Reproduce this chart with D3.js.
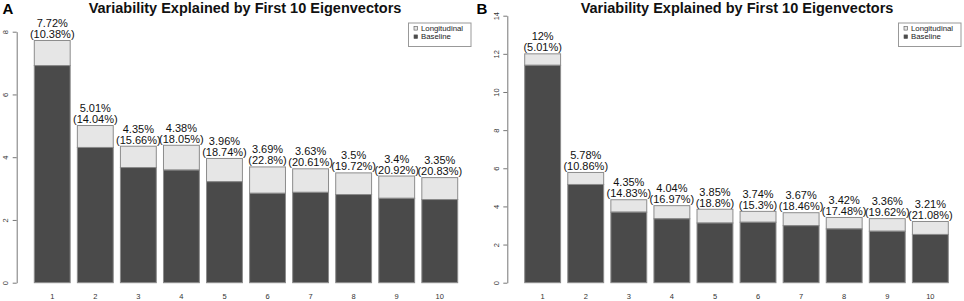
<!DOCTYPE html>
<html>
<head>
<meta charset="utf-8">
<script src="https://cdn.jsdelivr.net/npm/d3@7"></script>
<style>
  body { margin: 0; background: #fff; }
  text { font-family: "Liberation Sans", Arial, sans-serif; }
</style>
</head>
<body>
<div id="chart"></div>
<script>
// Eigenvector index (x categories)
const eigenvectors = ["1", "2", "3", "4", "5", "6", "7", "8", "9", "10"];

// Panel A: total height (top label) and longitudinal share (label in brackets)
const totalA = [7.72, 5.01, 4.35, 4.38, 3.96, 3.69, 3.63, 3.5, 3.4, 3.35];
const shareA = ["10.38", "14.04", "15.66", "18.05", "18.74", "22.8", "20.61", "19.72", "20.92", "20.83"];
const baselineA = [6.92, 4.31, 3.67, 3.59, 3.22, 2.85, 2.88, 2.81, 2.69, 2.65];
const ticksA = [0, 2, 4, 6, 8];

// Panel B
const totalB = [12, 5.78, 4.35, 4.04, 3.85, 3.74, 3.67, 3.42, 3.36, 3.21];
const shareB = ["5.01", "10.86", "14.83", "16.97", "18.8", "15.3", "18.46", "17.48", "19.62", "21.08"];
const baselineB = [11.4, 5.15, 3.7, 3.35, 3.13, 3.17, 2.99, 2.82, 2.7, 2.53];
const ticksB = [0, 2, 4, 6, 8, 10, 12, 14];

const legendItems = ["Longitudinal", "Baseline"];

const width = 964;
const height = 301;
const darkFill = "#4a4a4a";
const lightFill = "#e6e6e6";
const borderColor = "#8c8c8c";

const svg = d3
  .select("#chart")
  .append("svg")
  .attr("width", width)
  .attr("height", height);

// Draw one barplot panel
function drawPanel(opts) {
  const g = svg.append("g");

  const xScale = d3
    .scaleBand()
    .domain(eigenvectors)
    .range(opts.xRange)
    .paddingInner(1 / 6)
    .paddingOuter(0);

  const yScale = d3
    .scaleLinear()
    .domain([0, d3.max(opts.ticks)])
    .range([282.7, opts.yTop]);

  const rows = eigenvectors.map((k, i) => ({
    key: k,
    total: opts.total[i],
    base: opts.baseline[i],
    share: opts.share[i],
  }));

  // Light (longitudinal) part = whole bar, dark baseline drawn on top
  g.selectAll("rect.total")
    .data(rows)
    .enter()
    .append("rect")
    .attr("x", (d) => xScale(d.key))
    .attr("y", (d) => yScale(d.total))
    .attr("width", xScale.bandwidth())
    .attr("height", (d) => yScale(d.base) - yScale(d.total))
    .attr("fill", lightFill)
    .attr("stroke", borderColor)
    .attr("stroke-width", 1);

  g.selectAll("rect.base")
    .data(rows)
    .enter()
    .append("rect")
    .attr("x", (d) => xScale(d.key))
    .attr("y", (d) => yScale(d.base))
    .attr("width", xScale.bandwidth())
    .attr("height", (d) => yScale(0) - yScale(d.base))
    .attr("fill", darkFill)
    .attr("stroke", borderColor)
    .attr("stroke-width", 1);

  // Two-line labels above bars
  const labels = g
    .selectAll("text.lab")
    .data(rows)
    .enter()
    .append("text")
    .attr("text-anchor", "middle")
    .attr("font-size", "11px")
    .attr("fill", "#111");
  labels
    .append("tspan")
    .attr("x", (d) => xScale(d.key) + xScale.bandwidth() / 2)
    .attr("y", (d) => yScale(d.total) - 13.5)
    .text((d) => d.total + "%");
  labels
    .append("tspan")
    .attr("x", (d) => xScale(d.key) + xScale.bandwidth() / 2)
    .attr("y", (d) => yScale(d.total) - 2.5)
    .text((d) => "(" + d.share + "%)");

  // x category names (no axis line, like R barplot)
  g.selectAll("text.xlab")
    .data(rows)
    .enter()
    .append("text")
    .attr("x", (d) => xScale(d.key) + xScale.bandwidth() / 2)
    .attr("y", 298.5)
    .attr("text-anchor", "middle")
    .attr("font-size", "7.5px")
    .attr("fill", "#333")
    .text((d) => d.key);

  // y axis
  const axis = g
    .append("g")
    .attr("transform", `translate(${opts.axisX},0)`)
    .call(d3.axisLeft(yScale).tickValues(opts.ticks).tickSize(4).tickSizeOuter(0));
  axis.select(".domain").attr("stroke", "#777");
  axis.selectAll(".tick line").attr("stroke", "#777");
  axis
    .selectAll(".tick text")
    .attr("x", null)
    .attr("dy", null)
    .attr("transform", "translate(-8.5,0) rotate(-90)")
    .attr("text-anchor", "middle")
    .attr("font-size", "7.5px")
    .attr("font-family", "Liberation Sans, Arial, sans-serif")
    .attr("fill", "#333");

  // Title and panel letter
  g.append("text")
    .attr("x", opts.titleX)
    .attr("y", 12.5)
    .attr("text-anchor", "middle")
    .attr("font-size", "14.5px")
    .attr("font-weight", "bold")
    .attr("fill", "#111")
    .text("Variability Explained by First 10 Eigenvectors");

  g.append("text")
    .attr("x", opts.letterX)
    .attr("y", 13.5)
    .attr("font-size", "15px")
    .attr("font-weight", "bold")
    .attr("fill", "#000")
    .text(opts.letter);

  // Legend
  const lg = g.append("g").attr("transform", `translate(${opts.legendX},23)`);
  lg.append("rect")
    .attr("x", 0)
    .attr("y", 0)
    .attr("width", 62.5)
    .attr("height", 23.5)
    .attr("fill", "#fff")
    .attr("stroke", "#999")
    .attr("stroke-width", 1);
  legendItems.forEach((name, i) => {
    lg.append("rect")
      .attr("x", 5.5)
      .attr("y", 3.5 + i * 8.4)
      .attr("width", 3.6)
      .attr("height", 3.6)
      .attr("fill", i === 0 ? lightFill : darkFill)
      .attr("stroke", "#555")
      .attr("stroke-width", 0.6);
    lg.append("text")
      .attr("x", 12.5)
      .attr("y", 8 + i * 8.4)
      .attr("font-size", "7.8px")
      .attr("fill", "#222")
      .text(name);
  });
}

drawPanel({
  letter: "A",
  letterX: 2.5,
  titleX: 245,
  xRange: [34.3, 457.7],
  yTop: 31.7,
  axisX: 16.7,
  ticks: ticksA,
  total: totalA,
  share: shareA,
  baseline: baselineA,
  legendX: 408.5,
});

drawPanel({
  letter: "B",
  letterX: 476.5,
  titleX: 737,
  xRange: [524.7, 948.3],
  yTop: 15.7,
  axisX: 507.3,
  ticks: ticksB,
  total: totalB,
  share: shareB,
  baseline: baselineB,
  legendX: 898.5,
});
</script>
</body>
</html>
